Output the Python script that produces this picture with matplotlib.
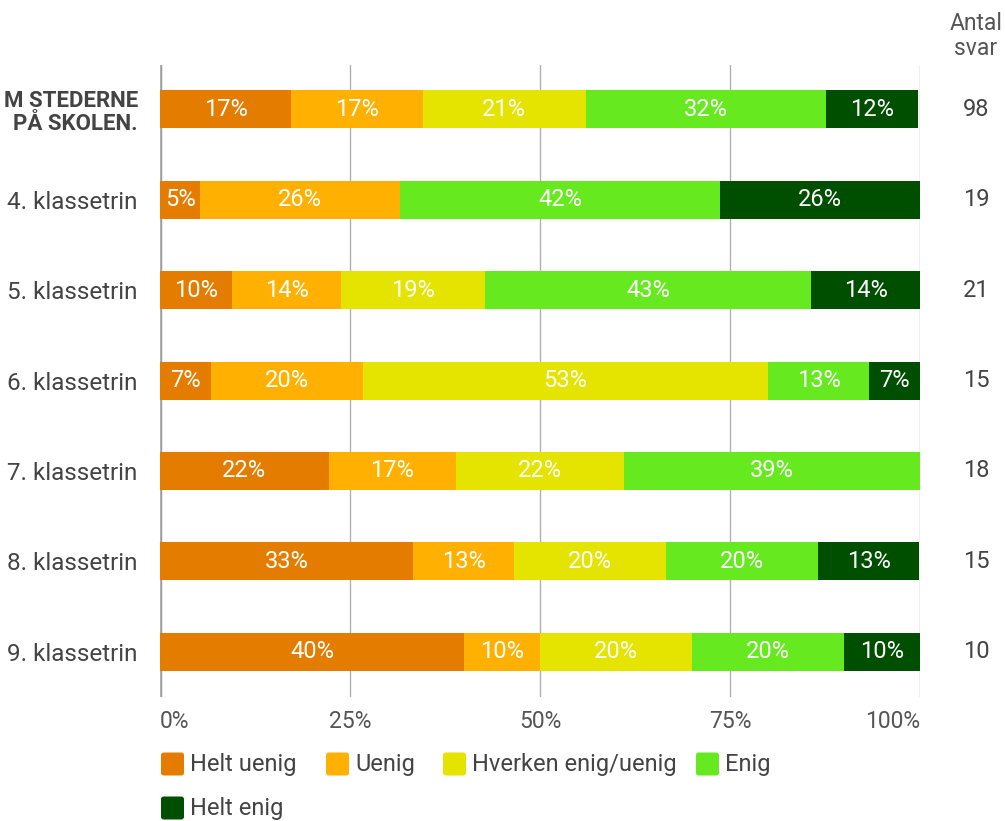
import matplotlib
matplotlib.use("Agg")
import matplotlib.pyplot as plt
from matplotlib.patches import FancyBboxPatch
from matplotlib.transforms import blended_transform_factory
import numpy as np

plt.rcParams['font.family'] = ['Roboto', 'DejaVu Sans']

categories = ["M STEDERNE\nPÅ SKOLEN.", "4. klassetrin", "5. klassetrin", "6. klassetrin",
              "7. klassetrin", "8. klassetrin", "9. klassetrin"]
series = ["Helt uenig", "Uenig", "Hverken enig/uenig", "Enig", "Helt enig"]
helt_uenig = [17.3, 5.3, 9.5, 6.7, 22.2, 33.3, 40.0]
uenig = [17.3, 26.3, 14.3, 20.0, 16.7, 13.3, 10.0]
hverken = [21.4, 0.0, 19.0, 53.3, 22.2, 20.0, 20.0]
enig = [31.6, 42.1, 42.9, 13.3, 38.9, 20.0, 20.0]
helt_enig = [12.2, 26.3, 14.3, 6.7, 0.0, 13.3, 10.0]
antal = [98, 19, 21, 15, 18, 15, 10]
ticks = [0, 25, 50, 75, 100]
tick_labels = ["0%", "25%", "50%", "75%", "100%"]
colors = ["#e47c00", "#ffb000", "#e5e300", "#66e91f", "#004f00"]

W, H = 1005, 821
fig = plt.figure(figsize=(W / 100, H / 100), dpi=100)
ax = fig.add_axes([160 / W, 1 - 697 / H, 760 / W, (697 - 65) / H])

y = np.arange(len(categories))
left = np.zeros(len(categories))
for vals, c in zip([helt_uenig, uenig, hverken, enig, helt_enig], colors):
    vals = np.array(vals)
    ax.barh(y, vals, left=left, height=0.42, color=c, zorder=3)
    for yi, l, v in zip(y, left, vals):
        if v > 0:
            ax.text(l + v / 2, yi, f"{round(v)}%", ha="center", va="center",
                    color="white", fontsize=17, zorder=4)
    left += vals

ax.set_xlim(0, 100)
ax.set_ylim(6.5, -0.49)
ax.set_xticks(ticks)
ax.set_xticklabels(tick_labels)
ax.tick_params(axis="x", length=0, pad=9, labelsize=16.5, labelcolor="#555555")
xl = ax.get_xticklabels()
xl[0].set_ha("left")
xl[-1].set_ha("right")
ax.set_yticks(y)
ax.set_yticklabels(categories)
ax.tick_params(axis="y", length=0, pad=16, labelsize=17.5, labelcolor="#444444")
first = ax.get_yticklabels()[0]
first.set_fontweight("bold")
first.set_fontsize(16)
first.set_linespacing(1.05)
for s in ax.spines.values():
    s.set_visible(False)
ax.grid(axis="x", color="#b0b0b0", linewidth=1, zorder=0)
ax.axvline(0, color="#999999", linewidth=2.5, zorder=1)

# antal svar column
tr = blended_transform_factory(fig.transFigure, ax.transData)
for yi, n in zip(y, antal):
    ax.text(976 / W, yi, str(n), transform=tr, ha="center", va="center",
            fontsize=17, color="#444444")
fig.text(976 / W, 1 - 36 / H, "Antal\nsvar", ha="center", va="center",
         fontsize=16.5, color="#555555", linespacing=1.15)

# legend drawn by hand to follow the row-wise layout of the original
legend_pos = [(161, 764), (326, 764), (443, 764), (696, 764), (161, 808)]
for (px, py), name, c in zip(legend_pos, series, colors):
    fig.patches.append(FancyBboxPatch((px / W, 1 - (py + 11.5) / H), 23 / W, 23 / H,
                                      boxstyle="round,pad=0,rounding_size=0.003",
                                      transform=fig.transFigure, facecolor=c,
                                      edgecolor="none"))
    fig.text((px + 29) / W, 1 - py / H, name, ha="left", va="center",
             fontsize=17, color="#444444")

fig.savefig("out.png", dpi=100)
